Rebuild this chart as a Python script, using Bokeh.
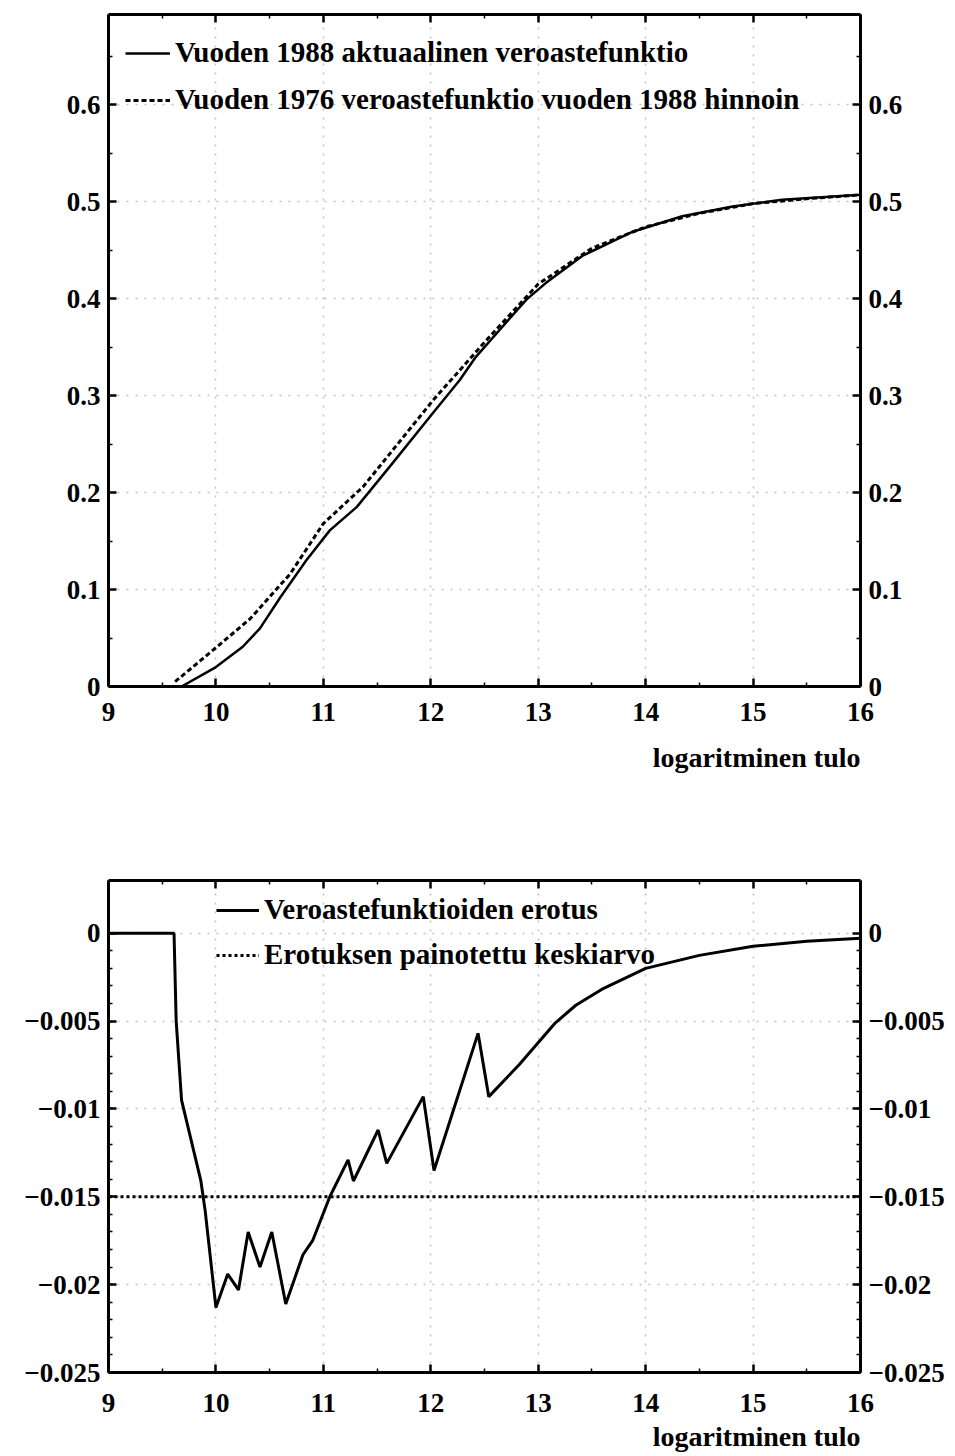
from bokeh.plotting import figure
from bokeh.models import (LinearAxis, Range1d, Legend, LegendItem, Title,
                          CustomJSTickFormatter, FixedTicker)
from bokeh.layouts import column
from bokeh.embed import file_html
from bokeh.resources import INLINE

FONT = "Liberation Serif"

# ---------------- data ----------------
x_1988 = [9.68, 10.0, 10.25, 10.41, 10.6, 10.84, 11.06, 11.31, 11.62, 12.02,
          12.27, 12.42, 12.89, 13.07, 13.41, 13.88, 14.34, 14.81, 15.27, 16.0]
rate_1988 = [0.0, 0.020, 0.041, 0.060, 0.092, 0.130, 0.161, 0.185, 0.227, 0.282,
             0.316, 0.340, 0.399, 0.416, 0.444, 0.469, 0.485, 0.495, 0.502, 0.507]

x_1976 = [9.62, 10.0, 10.32, 10.69, 11.0, 11.37, 12.02, 12.5, 13.0, 13.5,
          14.0, 14.5, 15.0, 15.5, 16.0]
rate_1976 = [0.005, 0.040, 0.070, 0.116, 0.168, 0.206, 0.295, 0.355, 0.415, 0.452,
             0.474, 0.488, 0.498, 0.503, 0.507]

x_diff = [9.0, 9.61, 9.63, 9.68, 9.86, 9.90, 10.0, 10.11, 10.21, 10.30, 10.41,
          10.52, 10.65, 10.81, 10.90, 11.06, 11.23, 11.28, 11.51, 11.59, 11.93,
          12.03, 12.44, 12.54, 12.82, 13.16, 13.35, 13.59, 14.0, 14.5, 15.0,
          15.5, 16.0]
diff = [0.0, 0.0, -0.0050, -0.0095, -0.0141, -0.0158, -0.0213, -0.0194, -0.0203,
        -0.0170, -0.0190, -0.0170, -0.0211, -0.0183, -0.0175, -0.0150, -0.0129,
        -0.0141, -0.0112, -0.0131, -0.0093, -0.0135, -0.0057, -0.0093, -0.0075,
        -0.0051, -0.0041, -0.0032, -0.0020, -0.00126, -0.00074, -0.00046,
        -0.00029]

mean_x = [9.0, 16.0]
mean_diff = [-0.015, -0.015]

x_ticks = [9, 10, 11, 12, 13, 14, 15, 16]
top_y_ticks = [0, 0.1, 0.2, 0.3, 0.4, 0.5, 0.6]
bot_y_ticks = [0, -0.005, -0.01, -0.015, -0.02, -0.025]

x_title = "logaritminen tulo"
top_labels = ["Vuoden 1988 aktuaalinen veroastefunktio",
              "Vuoden 1976 veroastefunktio vuoden 1988 hinnoin"]
bot_labels = ["Veroastefunktioiden erotus",
              "Erotuksen painotettu keskiarvo"]

# minor tick positions
x_minor = [9.5 + i for i in range(7)]
top_y_minor = [0.05 + 0.1 * i for i in range(7)]
bot_y_minor = [round(-0.001 * i, 4) for i in range(1, 26)]

FMT = """
const a = Math.abs(tick);
const s = parseFloat(a.toFixed(4)).toString();
return (tick < -1e-12 ? '\\u2212' : '') + s;
"""
BLANK = "return '';"


def style_axis(ax, ticks, minor, labels=True, standoff=8):
    ax.ticker = FixedTicker(ticks=ticks, minor_ticks=minor)
    ax.axis_line_width = 3
    ax.axis_line_color = "black"
    ax.major_tick_in = 8
    ax.major_tick_out = 0
    ax.minor_tick_in = 4
    ax.minor_tick_out = 0
    ax.major_tick_line_width = 2.5
    ax.minor_tick_line_width = 1.5
    ax.major_label_text_font = FONT
    ax.major_label_text_font_style = "bold"
    ax.major_label_text_color = "black"
    if labels:
        ax.formatter = CustomJSTickFormatter(code=FMT)
        ax.major_label_text_font_size = "27px"
        ax.major_label_standoff = standoff
    else:
        ax.formatter = CustomJSTickFormatter(code=BLANK)
        ax.major_label_text_font_size = "10px"
        ax.major_label_standoff = 0


def make_fig(height, y_rng, yticks, yminor, borders, x_standoff, t_standoff):
    top, right, bottom, left = borders
    p = figure(width=955, height=height, output_backend="svg",
               toolbar_location=None, x_range=Range1d(9, 16),
               y_range=Range1d(*y_rng),
               min_border_top=top, min_border_right=right,
               min_border_bottom=bottom, min_border_left=left)
    p.outline_line_color = None
    p.background_fill_color = "white"
    p.border_fill_color = "white"
    style_axis(p.xaxis[0], x_ticks, x_minor, True, x_standoff)
    style_axis(p.yaxis[0], yticks, yminor, True, 8)
    ax_top = LinearAxis()
    style_axis(ax_top, x_ticks, x_minor, False)
    p.add_layout(ax_top, "above")
    ax_right = LinearAxis()
    style_axis(ax_right, yticks, yminor, True, 8)
    p.add_layout(ax_right, "right")
    for g, t in ((p.xgrid[0], x_ticks), (p.ygrid[0], yticks)):
        g.ticker = FixedTicker(ticks=t)
        g.grid_line_color = "#9a9a9a"
        g.grid_line_dash = "2 7"
        g.grid_line_width = 1.5
        g.grid_line_alpha = 0.6
    t = Title(text=x_title, align="right", text_font=FONT,
              text_font_style="bold", text_font_size="28px",
              text_color="black", standoff=t_standoff, offset=0)
    p.add_layout(t, "below")
    return p


def make_legend(labels, renderers, loc, spacing, gw):
    return Legend(items=[LegendItem(label=l, renderers=[r])
                         for l, r in zip(labels, renderers)],
                  location=loc, padding=0, margin=0, spacing=spacing,
                  label_height=26, glyph_height=26, glyph_width=gw,
                  label_standoff=5, label_text_font=FONT,
                  label_text_font_style="bold", label_text_font_size="29px",
                  label_text_color="black", border_line_alpha=0,
                  background_fill_alpha=0)


# ---------------- top chart ----------------
p1 = make_fig(800, (0, 0.693), top_y_ticks, top_y_minor, (14, 93, 114, 108),
              16, 33)
r88 = p1.line(x_1988, rate_1988, line_color="black", line_width=2.5)
r76 = p1.line(x_1976, rate_1976, line_color="black", line_width=3,
              line_dash="5 3")
p1.add_layout(make_legend(top_labels, [r88, r76], (17, 570), 14, 45))

# ---------------- bottom chart ----------------
p2 = make_fig(656, (-0.025, 0.003), bot_y_ticks, bot_y_minor, (80, 95, 84, 104),
              21, 9)
rd = p2.line(x_diff, diff, line_color="black", line_width=3)
rm = p2.line(mean_x, mean_diff, line_color="black", line_width=3,
             line_dash="3 3")
p2.add_layout(make_legend(bot_labels, [rd, rm], (108, 401), 12, 43))

layout = column(p1, p2, spacing=0)
open("out.html", "w", encoding="utf-8").write(file_html(layout, INLINE))
